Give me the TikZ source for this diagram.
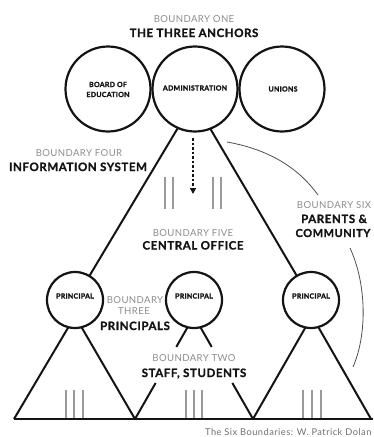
\documentclass[tikz,border=0pt]{standalone}
\usepackage{fontspec}
\setmainfont{Lato}
\newfontfamily\lblfont[LetterSpace=4]{Lato}
\newfontfamily\capfont[LetterSpace=5]{Lato}
\newfontfamily\ttlfont[LetterSpace=5, BoldFeatures={FakeBold=1.2}]{Lato}
\newfontfamily\inlfont[LetterSpace=4, BoldFeatures={FakeBold=1.6}]{Lato}
\usetikzlibrary{arrows.meta,calc}
\definecolor{lblgray}{HTML}{8C8C8C}
\definecolor{bargray}{HTML}{9A9A9A}
\definecolor{ink}{HTML}{141414}
\begin{document}
\begin{tikzpicture}[x=1pt,y=-1pt,
  edge/.style={draw=ink, line width=2pt},
  ring/.style={circle, draw=ink, line width=2.2pt, fill=white, minimum size=85pt, inner sep=0pt},
  pring/.style={circle, draw=ink, line width=2.2pt, fill=white, minimum size=56pt, inner sep=0pt},
  lbl/.style={text=lblgray, font=\lblfont\fontsize{9.6}{10}\selectfont, inner sep=0pt, anchor=base},
  ttl/.style={text=ink, font=\ttlfont\bfseries\fontsize{11.5}{12}\selectfont, inner sep=0pt, anchor=base},
  inlbl/.style={text=ink, font=\inlfont\bfseries\fontsize{7}{8}\selectfont, inner sep=0pt, anchor=base},
  bar/.style={draw=bargray, line width=1.2pt},
  thinline/.style={draw=ink!75, line width=0.8pt},
]
\useasboundingbox (0,0) rectangle (373,437);
% key coordinates
\coordinate (mApex) at (194,101);
\coordinate (pLc) at (75,300);
\coordinate (pMc) at (194,300);
\coordinate (pRc) at (311,300);
\coordinate (aL) at (75,316);
\coordinate (aM) at (194,316);
\coordinate (aR) at (312,316);
\coordinate (b0) at (14,419);
\coordinate (b1) at (135,419);
\coordinate (b2) at (253,419);
\coordinate (b3) at (371,419);
\coordinate (bEnd) at (373,419);
% main triangle sides
\draw[edge] (mApex) -- (pLc);
\draw[edge] (mApex) -- (pRc);
% small triangles
\draw[edge] (aL) -- (b0);
\draw[edge] (aL) -- (b1);
\draw[edge] (aR) -- (b2);
\draw[edge] (aR) -- (b3);
\draw[edge] (aM) -- ($(aM)!0.30!(b1)$);
\draw[edge] ($(aM)!0.65!(b1)$) -- (b1);
\draw[edge] (aM) -- ($(aM)!0.30!(b2)$);
\draw[edge] ($(aM)!0.65!(b2)$) -- (b2);
% baseline
\draw[edge] (b0) -- (bEnd);
% circles
\node[ring] (board) at (108,89) {};
\node[ring] (admin) at (195,89) {};
\node[ring] (unions) at (282,89) {};
\node[pring] (pL) at (pLc) {};
\node[pring] (pM) at (pMc) {};
\node[pring] (pR) at (pRc) {};
% circle labels
\node[inlbl] (tBoard1) at (108,87) {BOARD OF};
\node[inlbl] (tBoard2) at (108,97) {EDUCATION};
\node[inlbl] (tAdmin) at (195,90.5) {ADMINISTRATION};
\node[inlbl] (tUnions) at (283,91.5) {UNIONS};
\node[inlbl] (tPL) at (75,298.5) {PRINCIPAL};
\node[inlbl] (tPM) at (194,298.5) {PRINCIPAL};
\node[inlbl] (tPR) at (311,298.5) {PRINCIPAL};
% dashed arrow
\coordinate (arrS) at (193,138);
\coordinate (arrE) at (193,194);
\draw[draw=ink, line width=1.5pt, dash pattern=on 2.5pt off 2pt, -{Triangle[length=6pt,width=6pt]}] (arrS) -- (arrE);
% gray bars
\foreach \x in {165,173,213,221} \draw[bar] (\x,177) -- (\x,209);
\foreach \x in {66,74,83,186,194,202,303,312,321} \draw[bar] (\x,390) -- (\x,418);
% boundary six curves
\coordinate (c1s) at (227,142);
\coordinate (c1e) at (318,195);
\coordinate (c2s) at (350,248);
\coordinate (c2e) at (353,367);
\draw[thinline] (c1s) .. controls (272,150) and (300,170) .. (c1e);
\draw[thinline] (c2s) .. controls (367,285) and (367,335) .. (c2e);
% texts
\node[lbl] (t1a) at (194,22.5) {BOUNDARY ONE};
\node[ttl] (t1b) at (194,37) {THE THREE ANCHORS};
\node[lbl] (t4a) at (79,156.3) {BOUNDARY FOUR};
\node[ttl] (t4b) at (78,171) {INFORMATION SYSTEM};
\node[lbl] (t6a) at (334,208.3) {BOUNDARY SIX};
\node[ttl] (t6b) at (334,223) {PARENTS \&};
\node[ttl, font=\ttlfont\bfseries\fontsize{11}{12}\selectfont] (t6c) at (333,237) {COMMUNITY};
\node[lbl] (t5a) at (193,236.3) {BOUNDARY FIVE};
\node[ttl] (t5b) at (193,249.5) {CENTRAL OFFICE};
\node[lbl] (t3a) at (135,303.3) {BOUNDARY};
\node[lbl] (t3b) at (134,314.3) {THREE};
\node[ttl] (t3c) at (135,330) {PRINCIPALS};
\node[lbl] (t2a) at (194,361.3) {BOUNDARY TWO};
\node[ttl] (t2b) at (194,377) {STAFF, STUDENTS};
\node[text=lblgray!80!black, font=\capfont\fontsize{9.3}{10}\selectfont, inner sep=0pt, anchor=base west] (cap) at (205,435) {The Six Boundaries: W. Patrick Dolan};
\end{tikzpicture}
\end{document}
